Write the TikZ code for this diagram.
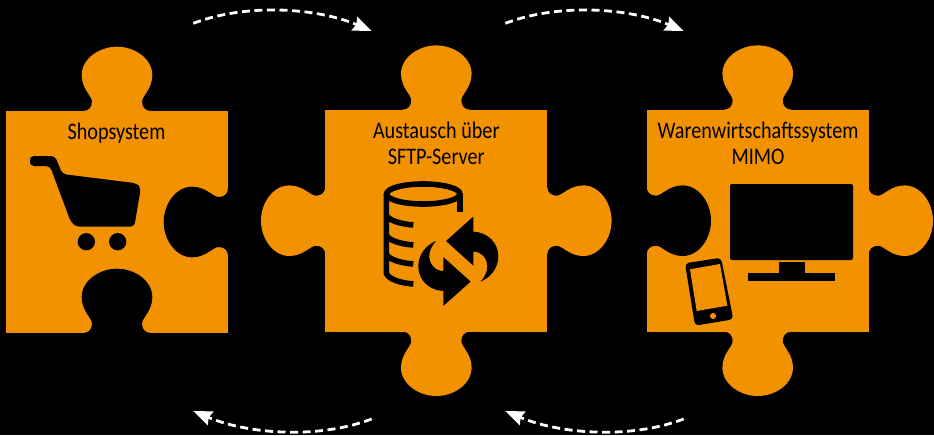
\documentclass[tikz,border=0pt]{standalone}
\usepackage{fontspec}
\setmainfont[FakeStretch=0.85]{Carlito}
\usetikzlibrary{arrows.meta}
\definecolor{puzzle}{HTML}{F39200}
\tikzset{
  x=0.75pt,y=-0.75pt,
  piecelabel/.style={anchor=base,inner sep=0pt,text=black,font=\fontsize{17.8pt}{20pt}\selectfont},
  flowarrow/.style={white,line width=2.1pt,dash pattern=on 6pt off 3.4pt,
    -{Stealth[length=14pt,width=11pt,inset=1.5pt]}},
  icon/.style={fill=black,draw=none},
  iconline/.style={draw=black,line width=4.2pt,fill=none}
}
\newcommand{\puzzletab}[3]{%
  \fill[#3,shift={(#1)},rotate=#2]
    (-34,1) -- (-33.7,0) .. controls (-28,0) and (-25,-4) .. (-25,-9.5)
    .. controls (-25,-15) and (-35.3,-22) .. (-35.3,-36)
    .. controls (-35.3,-52) and (-18,-64.3) .. (0,-64.3)
    .. controls (18,-64.3) and (35.3,-52) .. (35.3,-36)
    .. controls (35.3,-22) and (25,-15) .. (25,-9.5)
    .. controls (25,-4) and (28,0) .. (33.7,0) -- (34,1) -- cycle;}
\newcommand{\syncarrow}[1]{%
  \fill[black,shift={(458.3,261.3)},rotate=#1]
    (-12.3,-20.3) -- (15,-44.7) -- (15,-29.7)
    .. controls (30,-29) and (40,-18) .. (40,-5)
    .. controls (40,6) and (33,16) .. (22.3,20.3)
    .. controls (27,15) and (29,10) .. (29,5.3)
    .. controls (29,-3) and (23,-9.7) .. (15,-9.7)
    -- (15,4.3) -- cycle;}
\begin{document}
\begin{tikzpicture}
\useasboundingbox (0,0) rectangle (934,435);
\fill[black] (0,0) rectangle (934,435);
% piece 1
\fill[puzzle] (6,111) rectangle (228,333);
\puzzletab{117,111}{0}{puzzle}
\puzzletab{117,333}{0}{black}
\puzzletab{228,222}{90}{black}
% piece 2
\fill[puzzle] (325.3,109.7) rectangle (547.3,331.7);
\puzzletab{436.3,109.7}{0}{puzzle}
\puzzletab{436.3,331.7}{180}{puzzle}
\puzzletab{325.3,220.7}{90}{puzzle}
\puzzletab{547.3,220.7}{-90}{puzzle}
% piece 3
\fill[puzzle] (646.7,109.7) rectangle (868.7,331.7);
\puzzletab{757.7,109.7}{0}{puzzle}
\puzzletab{757.7,331.7}{180}{puzzle}
\puzzletab{868.7,220.7}{-90}{puzzle}
\puzzletab{646.7,220.7}{-90}{black}
% labels
\node[piecelabel] (shop) at (116.5,139) {Shopsystem};
\node[piecelabel] (aus1) at (436.3,138) {Austausch über};
\node[piecelabel] (aus2) at (436.3,164) {SFTP-Server};
\node[piecelabel] (war1) at (758,138) {Warenwirtschaftssystem};
\node[piecelabel] (war2) at (758,164) {MIMO};
% cart
\fill[icon,rounded corners=3pt] (30,161) -- (30,156) -- (55,156) -- (62.3,174) -- (136.7,183.3)
  -- (140.8,188) -- (134.3,226.7) -- (76,226.7) -- (70.7,221.7) -- (50,166) -- (30,166) -- cycle;
\fill[icon] (86.3,241.7) circle[radius=6.5pt];
\fill[icon] (117.7,241.7) circle[radius=6.5pt];
% database
\draw[iconline] (423.2,194) ellipse[x radius=27.5pt,y radius=7.5pt];
\draw[iconline] (386.3,194) -- (386.3,273) .. controls (388,279) and (400,283) .. (413.3,284);
\draw[iconline] (460,194) -- (460,211.7);
\draw[iconline] (386.3,215) .. controls (388,220) and (400,224) .. (413.3,225);
\draw[iconline] (386.3,235) .. controls (388,240) and (400,244) .. (413.3,245);
\draw[iconline] (386.3,254) .. controls (388,259) and (400,263) .. (413.3,264);
\syncarrow{0}
\syncarrow{180}
% monitor
\fill[icon,rounded corners=1.5pt] (730,184) rectangle (853,260);
\fill[icon] (779,262) rectangle (805,274);
\fill[icon] (748,273) rectangle (835,280.7);
% phone
\fill[icon,rounded corners=3pt] (685,263.3) -- (721,257.7) -- (733.3,319.3) -- (695,325.7) -- cycle;
\fill[puzzle] (690,269.3) -- (720,264) -- (727.3,305.7) -- (696.7,311) -- cycle;
\fill[puzzle] (713,316) circle[radius=2.3pt];
% flow arrows
\coordinate (a1s) at (193.3,23.3); \coordinate (a1e) at (371.7,31);
\coordinate (a2s) at (505.3,23.3); \coordinate (a2e) at (683.7,31);
\coordinate (b1s) at (371.7,419);  \coordinate (b1e) at (193.3,411);
\coordinate (b2s) at (683.7,419);  \coordinate (b2e) at (505.3,411);
\draw[flowarrow] (a1s) .. controls +(56.7,-21.3) and +(-51.7,-22) .. (a1e);
\draw[flowarrow] (a2s) .. controls +(56.7,-21.3) and +(-51.7,-22) .. (a2e);
\draw[flowarrow] (b1s) .. controls +(-56.7,21.3) and +(51.7,22) .. (b1e);
\draw[flowarrow] (b2s) .. controls +(-56.7,21.3) and +(51.7,22) .. (b2e);
\end{tikzpicture}
\end{document}
